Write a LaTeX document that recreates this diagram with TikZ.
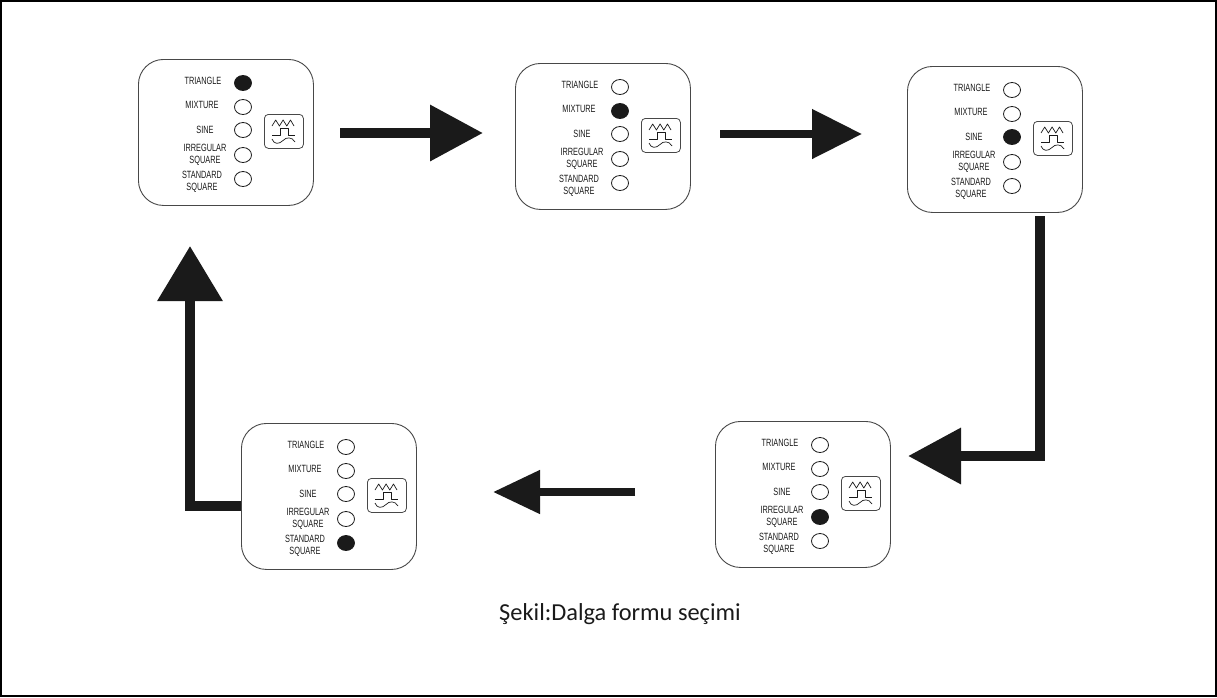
\documentclass[tikz,border=0pt]{standalone}
\usepackage{fontspec}
\setmainfont{Carlito}
\newfontfamily\lblfont{Liberation Sans}
\usetikzlibrary{arrows.meta,calc,shapes.geometric}
\definecolor{ink}{HTML}{1A1A1A}
\tikzset{
  panelbox/.style={draw=ink!80,line width=.9pt,fill=white,rounded corners=25pt,minimum width=175pt,minimum height=146pt,inner sep=0pt,anchor=north west},
  iconbox/.style={draw=ink!80,line width=.8pt,rounded corners=4pt,minimum width=39pt,minimum height=34pt,inner sep=0pt,anchor=north west},
  led/.style={ellipse,draw=ink,line width=.8pt,minimum width=17pt,minimum height=15pt,inner sep=0pt},
  lbl/.style={font=\lblfont\fontsize{10.5pt}{12pt}\selectfont,align=center,inner sep=0pt,text=ink,transform shape,xscale=.7},
  wave/.style={draw=ink,line width=.7pt,line join=round},
  bigarrow/.style={draw=ink,line width=#1,-{Triangle[length=53pt,width=54pt]},line join=miter},
  bigarrow/.default=10pt
}
\newcommand{\panelunit}[4]{%
  \begin{scope}[shift={(#2,#3)}]
    \node[panelbox] (#1) at (0,0) {};
    \node[lbl] (#1-t1) at (65,22) {TRIANGLE};
    \node[lbl] (#1-t2) at (64,46) {MIXTURE};
    \node[lbl] (#1-t3) at (67,71) {SINE};
    \node[lbl] (#1-t4) at (67,96) {IRREGULAR\\SQUARE};
    \node[lbl] (#1-t5) at (64,123) {STANDARD\\SQUARE};
    \foreach \i/\ly in {1/24,2/48,3/71,4/96,5/120}{
      \ifnum\i=#4\relax\def\ledfill{ink}\else\def\ledfill{white}\fi
      \node[led,fill=\ledfill] (#1-led\i) at (105,\ly) {};
    }
    \node[iconbox] (#1-icon) at (126,55) {};
    \draw[wave] (134,67) -- (137.7,61) -- (141.4,67) -- (145.1,61) -- (148.8,67) -- (152.5,61) -- (156,67);
    \draw[wave] (134,76.5) -- (142,76.5) -- (142,69.5) -- (150,69.5) -- (150,76.5) -- (157,76.5);
    \draw[wave] (134,80) .. controls (136,85.5) and (141,85.5) .. (145,81.5) .. controls (148,78) and (154,77.5) .. (157,83);
  \end{scope}
}
\begin{document}
\begin{tikzpicture}[x=1pt,y=-1pt]
\useasboundingbox (0,0) rectangle (1217,697);
\draw[black,line width=1.6pt] (.8,.8) rectangle (1216.2,696.2);

\panelunit{p1}{138}{59}{1}
\panelunit{p2}{515}{63}{2}
\panelunit{p3}{907}{66}{3}
\panelunit{p4}{715}{421}{4}
\panelunit{p5}{241}{423}{5}

\coordinate (a1s) at (340,133);
\coordinate (a1e) at (483,133);
\coordinate (a2s) at (720,134);
\coordinate (a2e) at (862,134);
\coordinate (a3s) at (1040,216);
\coordinate (a3e) at (908,456);
\coordinate (a4s) at (635,492);
\coordinate (a4e) at (493,492);
\coordinate (a5s) at ($(p5.west)+(0,10)$);
\coordinate (a5e) at (190,246);

\draw[bigarrow] (a1s) -- (a1e);
\draw[bigarrow=8pt,-{Triangle[length=50pt,width=48pt]}] (a2s) -- (a2e);
\draw[bigarrow] (a3s) |- (a3e);
\draw[bigarrow=8pt,-{Triangle[length=47pt,width=42pt]}] (a4s) -- (a4e);
\draw[bigarrow,-{Triangle[length=55pt,width=63pt]}] (a5s) -| (a5e);

\node[inner sep=0pt,font=\fontsize{24.4pt}{28pt}\selectfont,text=ink] (cap) at (620,614) {Şekil:Dalga formu seçimi};
\end{tikzpicture}
\end{document}
